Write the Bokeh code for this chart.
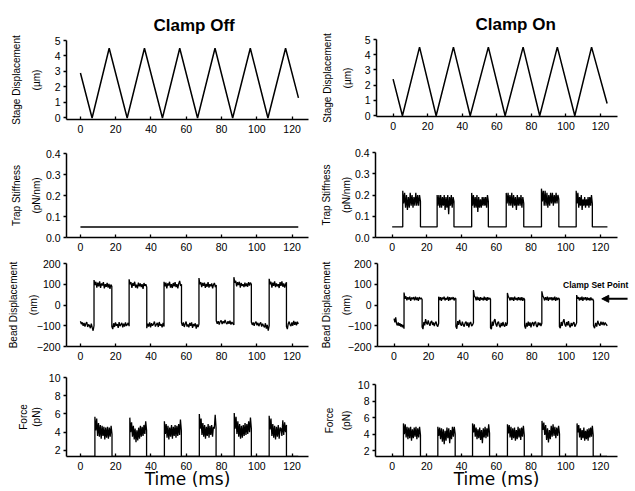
import numpy as np
from bokeh.plotting import figure
from bokeh.layouts import column, row
from bokeh.models import Label, Arrow, NormalHead, Range1d, FixedTicker, NumeralTickFormatter
from bokeh.embed import file_html
from bokeh.resources import INLINE

# ---------------- data ----------------
time_ticks = [0, 20, 40, 60, 80, 100, 120]
stage_ticks = [0, 1, 2, 3, 4, 5]
stiff_ticks = [0.0, 0.1, 0.2, 0.3, 0.4]
bead_ticks = [-200, -100, 0, 100, 200]
force_ticks = [2, 4, 6, 8, 10]

# stage displacement (um) - triangle vertices
stage_off_t = [0, 6.6, 16.3, 26.5, 36.3, 46.5, 56.3, 66.4, 76.3, 86.3, 96.3, 106.3, 116.3, 123.6]
stage_off_v = [2.9, 0, 4.5, 0, 4.5, 0, 4.5, 0, 4.5, 0, 4.5, 0, 4.5, 1.3]
stage_on_t = [0, 5.4, 15.3, 24.9, 34.9, 44.6, 55.1, 64.8, 75.2, 84.8, 95.0, 105.1, 114.8, 123.8]
stage_on_v = [2.4, 0, 4.5, 0, 4.5, 0, 4.5, 0, 4.5, 0, 4.5, 0, 4.5, 0.8]

# trap stiffness (pN/nm)
stiff_off_t = [0, 123.5]
stiff_off_v = [0.05, 0.05]
stiff_on_edges = [0, 6.1, 16.3, 25.9, 35.6, 45.8, 55.4, 65.7, 75.8, 86.0, 96.0, 106.0, 115.3, 124.0]
stiff_on_segs = [
    [0.05, 0.05],
    [0.22, 0.16, 0.21, 0.14, 0.20, 0.13, 0.19, 0.14, 0.21, 0.15, 0.20, 0.14, 0.19, 0.15, 0.21, 0.15, 0.20, 0.15, 0.20, 0.17],
    [0.05, 0.05],
    [0.20, 0.15, 0.20, 0.14, 0.20, 0.14, 0.19, 0.15, 0.20, 0.13, 0.19, 0.14, 0.20, 0.11, 0.19, 0.15, 0.20, 0.14, 0.19, 0.17],
    [0.05, 0.05],
    [0.21, 0.15, 0.20, 0.14, 0.19, 0.14, 0.20, 0.12, 0.19, 0.14, 0.18, 0.14, 0.19, 0.15, 0.19, 0.15, 0.19, 0.14, 0.20, 0.17],
    [0.05, 0.05],
    [0.21, 0.16, 0.21, 0.15, 0.20, 0.15, 0.21, 0.14, 0.20, 0.15, 0.19, 0.13, 0.20, 0.15, 0.19, 0.15, 0.20, 0.14, 0.19, 0.16],
    [0.05, 0.05],
    [0.23, 0.17, 0.22, 0.15, 0.22, 0.15, 0.21, 0.14, 0.20, 0.15, 0.21, 0.16, 0.21, 0.15, 0.20, 0.16, 0.21, 0.16, 0.20, 0.18],
    [0.05, 0.05],
    [0.22, 0.16, 0.21, 0.14, 0.19, 0.15, 0.20, 0.13, 0.18, 0.15, 0.19, 0.14, 0.18, 0.15, 0.19, 0.14, 0.19, 0.15, 0.20, 0.16],
    [0.05, 0.05],
]

# bead displacement (nm)
bead_off_edges = [0, 7.7, 17.8, 27.6, 37.6, 47.4, 57.3, 67.2, 77.0, 87.0, 96.9, 107.0, 116.8, 123.5]
bead_off_segs = [
    [-78, -92, -84, -100, -86, -104, -90, -82, -106, -94, -100, -112, -90, -108, -124, -100],
    [120, 96, 112, 84, 108, 90, 114, 82, 104, 94, 110, 80, 100, 88, 106, 84, 102, 78, 98, 90],
    [-104, -116, -88, -106, -84, -100, -92, -110, -82, -102, -94, -86, -108, -90, -104, -84, -100, -94, -86, -102],
    [124, 100, 110, 82, 106, 92, 112, 84, 98, 80, 108, 90, 104, 86, 100, 78, 106, 92, 100, 86],
    [-112, -90, -104, -84, -108, -88, -100, -92, -80, -104, -94, -86, -106, -82, -100, -92, -108, -86, -104],
    [112, 90, 108, 80, 104, 94, 112, 84, 100, 82, 106, 90, 110, 86, 100, 80, 104, 116, 92, 100],
    [-86, -100, -84, -106, -92, -80, -104, -94, -108, -86, -100, -84, -110, -92, -102, -88, -114, -94, -106, -92],
    [130, 100, 110, 86, 106, 92, 108, 82, 102, 88, 110, 84, 100, 90, 104, 80, 98, 106, 86, 96],
    [-76, -90, -78, -94, -80, -74, -92, -78, -88, -72, -86, -92, -78, -90, -76, -94, -82, -90, -96],
    [134, 108, 116, 90, 110, 96, 112, 84, 106, 92, 100, 86, 108, 90, 104, 88, 110, 94, 108, 100],
    [-82, -96, -84, -100, -86, -80, -98, -86, -102, -90, -84, -104, -90, -100, -108, -88, -114, -96, -124, -100],
    [126, 100, 112, 84, 108, 92, 114, 86, 104, 90, 100, 82, 110, 92, 114, 88, 104, 84, 100, 110],
    [-104, -116, -90, -80, -96, -102, -84, -100, -76, -96, -82, -98, -80, -92],
]
bead_on_edges = [0, 5.8, 16.3, 25.9, 35.9, 46.1, 56.0, 65.8, 75.8, 85.8, 96.0, 106.0, 115.8, 123.8]
bead_on_segs = [
    [-66, -84, -60, -90, -98, -84, -100, -88, -104, -92, -108, -96, -114],
    [60, 30, 42, 22, 38, 26, 40, 20, 36, 28, 38, 22, 40, 24, 36, 20, 38, 28, 34, 26],
    [-106, -116, -82, -98, -68, -86, -94, -74, -90, -100, -82, -76, -96, -84, -102, -88, -80, -98, -104, -88],
    [40, 24, 38, 20, 36, 28, 40, 22, 34, 26, 40, 20, 38, 24, 36, 28, 38, 22, 34, 30],
    [-104, -114, -78, -96, -72, -92, -100, -80, -96, -104, -86, -80, -100, -84, -108, -88, -82, -102, -96, -86],
    [72, 42, 38, 22, 40, 24, 36, 20, 38, 26, 34, 22, 40, 24, 36, 20, 38, 26, 34, 28],
    [-110, -116, -80, -100, -76, -68, -92, -104, -86, -80, -100, -108, -86, -102, -82, -98, -104, -84, -100, -88],
    [58, 40, 34, 22, 38, 24, 36, 20, 40, 26, 34, 22, 38, 24, 36, 22, 38, 20, 34, 26],
    [-100, -114, -86, -104, -80, -100, -84, -108, -88, -82, -102, -86, -80, -100, -106, -84, -98, -86, -102, -88],
    [66, 44, 36, 22, 38, 24, 40, 20, 36, 26, 38, 22, 36, 24, 40, 20, 36, 24, 34, 28],
    [-104, -112, -82, -100, -80, -68, -94, -104, -82, -98, -78, -100, -108, -86, -102, -88, -82, -104, -96, -86],
    [48, 30, 38, 22, 36, 24, 40, 20, 36, 26, 38, 22, 36, 24, 34, 22, 36, 24, 30, 20],
    [-100, -112, -86, -104, -76, -92, -100, -80, -96, -82, -98, -84, -94, -100],
]

# force (pN); between blocks the trace lies on the bottom of the axis
force_off_edges = [0, 8.2, 17.9, 28.0, 37.5, 47.6, 57.2, 67.4, 76.9, 87.2, 96.9, 107.0, 116.8, 123.5]
force_off_segs = [
    [1.34, 1.34],
    [5.7, 4.2, 5.5, 3.6, 5.0, 3.5, 4.8, 3.3, 4.7, 3.6, 4.6, 3.2, 4.5, 3.4, 4.6, 3.3, 4.5, 3.5, 4.7, 3.8],
    [1.34, 1.34],
    [5.6, 4.0, 5.1, 3.5, 4.7, 3.2, 4.4, 2.9, 4.2, 3.1, 4.5, 3.3, 4.7, 3.5, 4.6, 3.6, 4.8, 3.8, 5.2, 4.2],
    [1.34, 1.34],
    [5.2, 3.8, 4.9, 3.4, 4.7, 3.2, 4.5, 3.5, 4.8, 3.3, 4.6, 3.6, 4.8, 3.4, 4.7, 3.6, 4.9, 3.7, 5.4, 4.2],
    [1.34, 1.34],
    [6.0, 4.4, 5.5, 3.7, 5.0, 3.5, 4.8, 3.3, 4.6, 3.6, 4.9, 3.4, 4.7, 3.7, 4.8, 3.5, 4.6, 4.4, 5.9, 4.5],
    [1.34, 1.34],
    [6.1, 4.4, 5.7, 3.8, 5.2, 3.5, 4.9, 3.3, 4.7, 3.4, 4.8, 3.6, 5.0, 3.7, 4.9, 3.8, 5.2, 4.0, 5.6, 4.4],
    [1.34, 1.34],
    [5.8, 4.3, 5.5, 3.6, 4.9, 3.4, 4.7, 3.2, 4.6, 3.5, 4.8, 3.3, 4.5, 4.4, 3.6, 5.3, 3.7, 5.1, 4.0, 4.8],
    [1.34, 1.34],
]
force_on_edges = [0, 6.5, 16.3, 26.3, 36.3, 46.3, 56.1, 66.4, 76.1, 86.3, 96.4, 106.5, 115.8, 123.8]
force_on_segs = [
    [1.3, 1.3],
    [5.3, 4.0, 5.2, 3.6, 4.9, 3.4, 4.8, 3.5, 4.9, 3.2, 4.6, 3.5, 4.8, 3.7, 4.9, 3.4, 4.7, 3.6, 4.9, 3.9],
    [1.3, 1.3],
    [4.9, 3.8, 4.8, 3.4, 4.7, 3.1, 4.6, 2.8, 4.4, 3.2, 4.8, 3.5, 4.7, 2.9, 4.5, 3.4, 4.9, 3.7, 4.9, 4.0],
    [1.3, 1.3],
    [5.3, 4.2, 5.2, 3.7, 4.8, 3.4, 4.6, 3.5, 4.8, 3.3, 4.5, 2.9, 4.7, 3.6, 4.9, 3.5, 4.7, 3.7, 5.2, 4.1],
    [1.3, 1.3],
    [5.2, 4.1, 5.1, 3.6, 4.9, 3.3, 4.7, 3.5, 4.8, 3.2, 4.5, 3.4, 4.9, 3.6, 4.7, 3.3, 4.8, 3.7, 5.0, 3.9],
    [1.3, 1.3],
    [5.6, 4.5, 5.4, 3.9, 5.1, 3.3, 4.7, 3.0, 4.5, 3.4, 5.0, 3.7, 5.2, 3.8, 4.9, 3.5, 4.8, 3.8, 5.0, 4.0],
    [1.3, 1.3],
    [5.3, 4.2, 5.1, 3.6, 4.7, 3.3, 4.5, 3.5, 4.8, 3.2, 4.4, 3.4, 4.6, 3.2, 4.7, 3.6, 4.8, 3.7, 5.0, 3.9],
    [1.3, 1.3],
]

titles = ["Clamp Off", "Clamp On"]
ylabels = [("Stage Displacement", "(µm)"), ("Trap Stiffness", "(pN/nm)"),
           ("Bead Displacement", "(nm)"), ("Force", "(pN)")]
xlabel = "Time (ms)"
setpoint_text = "Clamp Set Point"


def build(edges, segs):
    ts, vs = [], []
    for a, b, seg in zip(edges[:-1], edges[1:], segs):
        ts.extend(np.linspace(a, b, len(seg)).tolist())
        vs.extend(seg)
    return ts, vs


# ---------------- layout geometry (absolute pixels) ----------------
COLS = [dict(x0=0, w=318, fl=66, fw=242, xr=(-7.9, 129.3)),
        dict(x0=318, w=317, fl=375, fw=242, xr=(-9.6, 129.8))]
ROWS = [dict(y0=0, h=140), dict(y0=140, h=115), dict(y0=255, h=115), dict(y0=370, h=121)]
PANEL = {
    (0, 0): dict(ft=40, fh=79, yr=(-0.1, 5.0)),
    (0, 1): dict(ft=39, fh=77, yr=(-0.05, 5.0)),
    (1, 0): dict(ft=153, fh=84, yr=(0.0, 0.4)),
    (1, 1): dict(ft=152, fh=85, yr=(0.0, 0.4)),
    (2, 0): dict(ft=263, fh=83, yr=(-200, 200)),
    (2, 1): dict(ft=263, fh=83, yr=(-200, 200), extend_right=True),
    (3, 0): dict(ft=377, fh=82, yr=(1.34, 10)),
    (3, 1): dict(ft=384, fh=74, yr=(1.3, 10)),
}
YTICKS = [stage_ticks, stiff_ticks, bead_ticks, force_ticks]
# axis-label standoffs (px) and line heights per column, per row
YLAB_STANDOFF = [[10, 1, -5, 4], [9, 0, -7, 3]]
YLAB_LINE_H = [[1.8, 1.8, 1.8, 1.2], [1.8, 1.8, 1.8, 1.5]]
TITLE_OFFSET = [87, 99]

TICK_FONT = "Liberation Sans"
LAB_FONT = "Liberation Sans"


def geom(r, c):
    g = dict(COLS[c]); g.update(ROWS[r]); g.update(PANEL[(r, c)])
    g["bounds"] = g["xr"]
    if g.get("extend_right"):
        scale = g["fw"] / (g["xr"][1] - g["xr"][0])
        new_fw = g["x0"] + g["w"] - g["fl"]
        g["xr"] = (g["xr"][0], g["xr"][0] + new_fw / scale)
        g["fw"] = new_fw
    return g


def to_data(g, px, py):
    x = g["xr"][0] + (px - g["fl"]) / g["fw"] * (g["xr"][1] - g["xr"][0])
    y = g["yr"][1] - (py - g["ft"]) / g["fh"] * (g["yr"][1] - g["yr"][0])
    return x, y


def make(r, c):
    g = geom(r, c)
    p = figure(width=g["w"], height=g["h"], output_backend="svg", toolbar_location=None,
               x_range=Range1d(*g["xr"]), y_range=Range1d(*g["yr"]),
               min_border_left=g["fl"] - g["x0"],
               min_border_right=g["x0"] + g["w"] - g["fl"] - g["fw"],
               min_border_top=g["ft"] - g["y0"],
               min_border_bottom=g["y0"] + g["h"] - g["ft"] - g["fh"])
    p.outline_line_color = None
    p.grid.visible = False
    p.background_fill_color = "white"
    p.border_fill_color = "white"
    p.xaxis.ticker = FixedTicker(ticks=time_ticks)
    p.yaxis.ticker = FixedTicker(ticks=YTICKS[r])
    p.xaxis.bounds = g["bounds"]
    if r == 1:
        p.yaxis.formatter = NumeralTickFormatter(format="0.0")
    for ax in (p.xaxis[0], p.yaxis[0]):
        ax.axis_line_width = 1.5
        ax.axis_line_color = "black"
        ax.major_tick_line_width = 1.3
        ax.major_tick_line_color = "black"
        ax.minor_tick_line_color = None
        ax.major_label_text_font = TICK_FONT
        ax.major_label_text_font_size = "10.5px"
        ax.major_label_text_color = "black"
    p.xaxis.major_tick_in = 3
    p.xaxis.major_tick_out = 0
    p.xaxis.major_label_standoff = 5
    p.yaxis.major_tick_in = 0
    p.yaxis.major_tick_out = 3
    p.yaxis.major_label_standoff = 3
    # two-line y axis label
    p.yaxis.axis_label = ylabels[r][0] + "\n" + ylabels[r][1]
    p.yaxis.axis_label_text_font = LAB_FONT
    p.yaxis.axis_label_text_font_size = "10px"
    p.yaxis.axis_label_text_font_style = "normal"
    p.yaxis.axis_label_text_color = "black"
    p.yaxis.axis_label_text_line_height = YLAB_LINE_H[c][r]
    p.yaxis.axis_label_standoff = YLAB_STANDOFF[c][r]
    if r == 0:
        p.title.text = titles[c]
        p.title.align = "left"
        p.title.offset = TITLE_OFFSET[c]
        p.title.text_font = TICK_FONT
        p.title.text_font_style = "bold"
        p.title.text_font_size = "17px"
        p.title.text_color = "black"
        p.title.standoff = 12
    if r == 3:
        p.xaxis.axis_label = xlabel
        p.xaxis.axis_label_text_font = "DejaVu Sans"
        p.xaxis.axis_label_text_font_size = "17px"
        p.xaxis.axis_label_text_font_style = "normal"
        p.xaxis.axis_label_text_color = "black"
        p.xaxis.axis_label_standoff = -4
    return p, g


series = {
    (0, 0): (stage_off_t, stage_off_v),
    (0, 1): (stage_on_t, stage_on_v),
    (1, 0): (stiff_off_t, stiff_off_v),
    (1, 1): build(stiff_on_edges, stiff_on_segs),
    (2, 0): build(bead_off_edges, bead_off_segs),
    (2, 1): build(bead_on_edges, bead_on_segs),
    (3, 0): build(force_off_edges, force_off_segs),
    (3, 1): build(force_on_edges, force_on_segs),
}

rows = []
for r in range(4):
    figs = []
    for c in range(2):
        p, g = make(r, c)
        t, v = series[(r, c)]
        p.line(t, v, line_color="black", line_width=1.5 if r < 2 and c == 0 or r == 0 else 1.3)
        if (r, c) == (2, 1):
            x, y = to_data(g, 562, 284.5)
            p.add_layout(Label(x=x, y=y, text=setpoint_text, text_align="left",
                               text_baseline="middle", text_font=TICK_FONT,
                               text_font_style="bold", text_font_size="8.5px",
                               text_color="black"))
            xs, ys = to_data(g, 627, 298.3)
            xe, _ = to_data(g, 601, 298.3)
            p.add_layout(Arrow(x_start=xs, y_start=ys, x_end=xe, y_end=ys,
                               line_width=2, line_color="black",
                               end=NormalHead(size=7, fill_color="black", line_color="black")))
        figs.append(column(p, spacing=0))
    rows.append(row(*figs, spacing=0))

layout = column(*rows, spacing=0)
open("out.html", "w").write(file_html(layout, INLINE))
